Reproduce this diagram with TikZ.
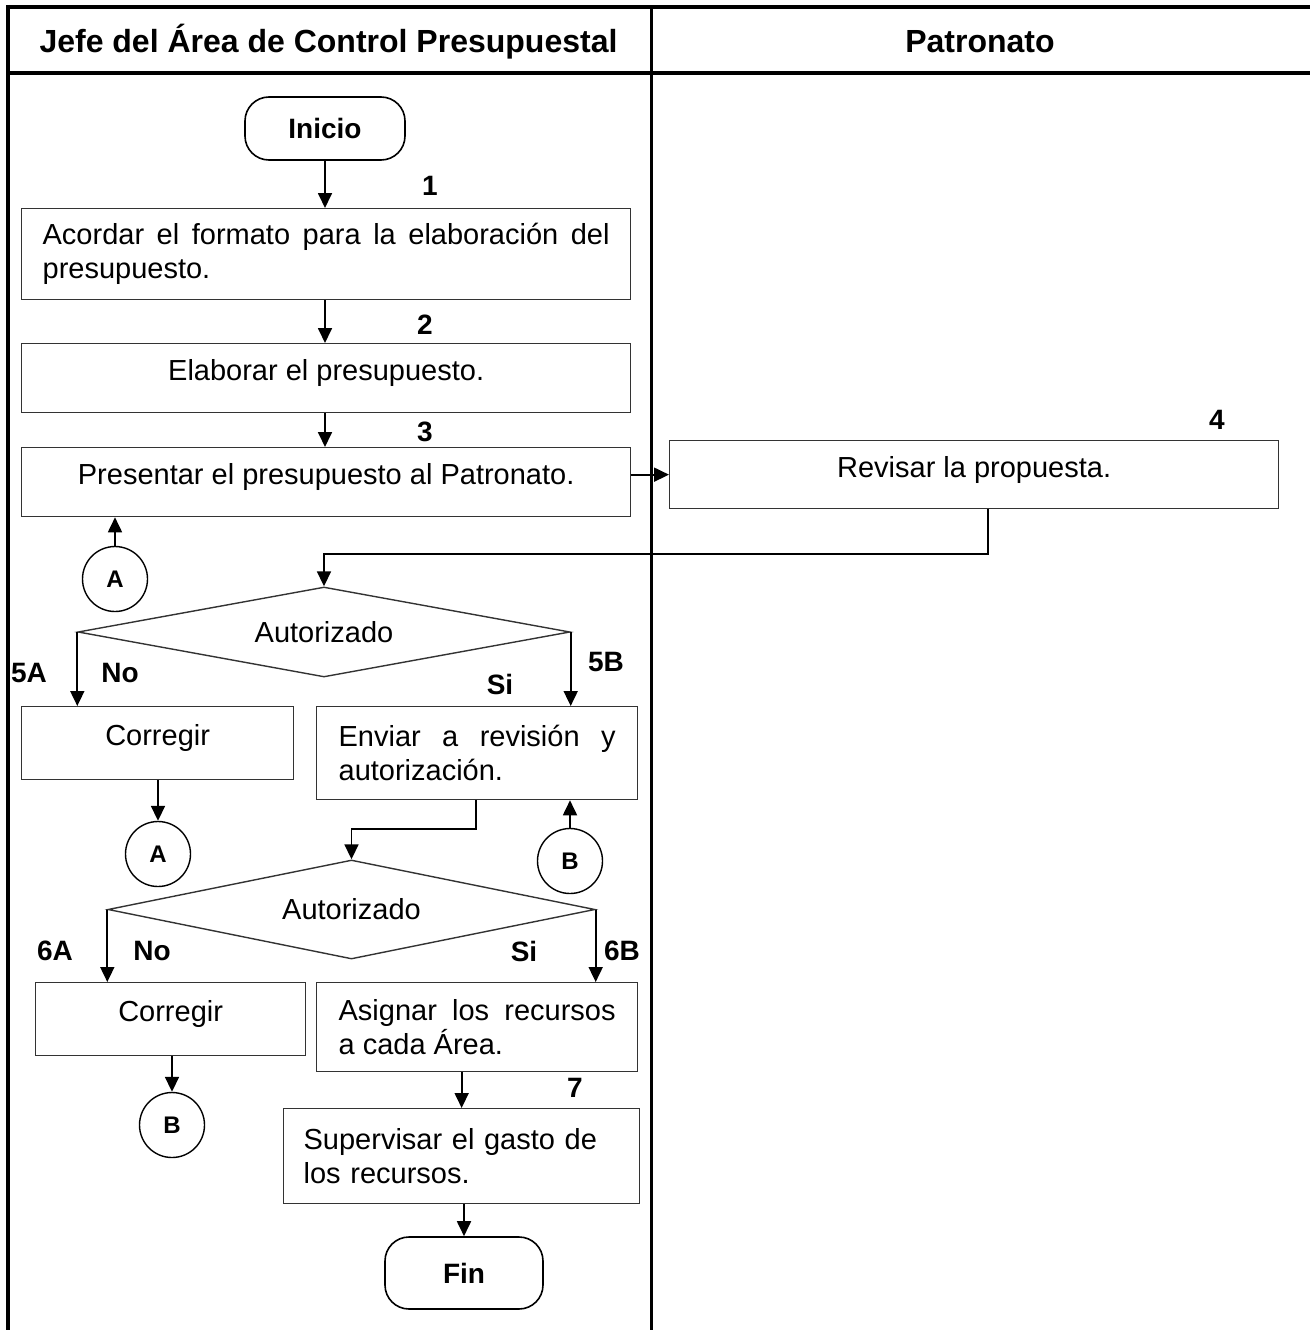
\documentclass[tikz,border=0pt]{standalone}
\usepackage{fontspec}
\setmainfont{Liberation Sans}
\usepackage{tikz}
\usetikzlibrary{arrows.meta,positioning,shapes.geometric}

\begin{document}
\begin{tikzpicture}[
    x=1pt,y=-1pt,
    every node/.style={font=\fontsize{29}{34}\selectfont},
    head/.style={font=\bfseries\fontsize{32}{34}\selectfont},
    box/.style={draw=black!80,line width=1.3pt,anchor=north west,inner xsep=21pt,inner ysep=0pt},
    onebox/.style={box,align=center,text depth=16pt},
    term/.style={draw,line width=1.6pt,rounded corners=24pt,minimum width=160pt,font=\bfseries\fontsize{28}{28}\selectfont},
    decision/.style={diamond,aspect=5,draw=black!80,line width=1.4pt,inner sep=0pt},
    conn/.style={circle,draw,line width=1.4pt,minimum size=65pt,inner sep=0pt,font=\bfseries\fontsize{24}{24}\selectfont},
    lbl/.style={font=\bfseries\fontsize{28}{28}\selectfont},
    flow/.style={line width=1.8pt,-{Triangle[length=15pt,width=14pt]}}
]
\useasboundingbox (0,0) rectangle (1310,1330);

\draw[line width=4pt] (6,7) -- (1310,7);
\draw[line width=4pt] (8,5) -- (8,1330);
\draw[line width=3pt] (8,73) -- (1310,73);
\draw[line width=3pt] (651,7) -- (651,1330);

\node[head] (jefe) at (328.5,42) {Jefe del Área de Control Presupuestal};
\node[head] (patro) at (980,42) {Patronato};

\node[term,minimum height=63pt] (inicio) at (325,128.5) {Inicio};
\node[box,minimum width=609pt,minimum height=91pt,text width=567pt,align=justify] (acordar) at (21,208)
    {Acordar el formato para la elaboración del\linebreak presupuesto.};
\node[onebox,minimum width=609pt,minimum height=69pt] (elaborar) at (21,343) {Elaborar el presupuesto.};
\node[onebox,minimum width=609pt,minimum height=69pt] (presentar) at (21,447) {Presentar el presupuesto al Patronato.};
\node[onebox,minimum width=609pt,minimum height=68pt] (revisar) at (669,440) {Revisar la propuesta.};

\node[conn] (a1) at (115,579) {A};
\node[decision,minimum width=492pt,minimum height=90pt] (dec1) at (324,632) {Autorizado};
\node[onebox,minimum width=272pt,minimum height=73pt] (corr1) at (21,706) {Corregir};
\node[box,minimum width=321pt,minimum height=93pt,inner xsep=22pt,text width=277pt,align=justify] (enviar) at (316,706)
    {Enviar a revisión y\linebreak autorización.};
\node[conn] (a2) at (158,854) {A};
\node[conn] (b1) at (570,861) {B};

\node[decision,minimum width=487pt,minimum height=99pt] (dec2) at (351.5,909.5) {Autorizado};
\node[onebox,minimum width=270pt,minimum height=73pt] (corr2) at (35,982) {Corregir};
\node[box,minimum width=321pt,minimum height=89pt,inner xsep=22pt,text width=277pt,align=justify] (asignar) at (316,982)
    {Asignar los recursos\linebreak a cada Área.};
\node[conn] (b2) at (172,1125) {B};
\node[box,minimum width=356pt,minimum height=95pt,inner xsep=20pt,text width=316pt,align=left] (supervisar) at (283,1108)
    {Supervisar el gasto de\\los recursos.};
\node[term,minimum width=158pt,minimum height=72pt] (fin) at (464,1273) {Fin};

\node[lbl] (n1) at (430,186) {1};
\node[lbl] (n2) at (425,325) {2};
\node[lbl] (n3) at (425,432) {3};
\node[lbl] (n4) at (1217,420) {4};
\node[lbl] (n5a) at (29,673) {5A};
\node[lbl] (no1) at (120,673) {No};
\node[lbl] (n5b) at (606,662) {5B};
\node[lbl] (si1) at (500,684) {Si};
\node[lbl] (n6a) at (55,951) {6A};
\node[lbl] (no2) at (152,951) {No};
\node[lbl] (si2) at (524,951) {Si};
\node[lbl] (n6b) at (622,951) {6B};
\node[lbl] (n7) at (575,1088) {7};

\coordinate (j4) at (988,554);
\coordinate (j5) at (476,829);

\draw[flow] (inicio) -- (acordar.north -| inicio);
\draw[flow] (acordar.south -| inicio) -- (elaborar.north -| inicio);
\draw[flow] (elaborar.south -| inicio) -- (presentar.north -| inicio);
\draw[flow] (revisar.west -| presentar.east) -- (revisar.west);
\draw[flow] (j4 |- revisar.south) -- (j4) -| (dec1.north);
\draw[flow] (a1.north) -- (a1.north |- presentar.south);
\draw[flow] (dec1.west) -- (dec1.west |- corr1.north);
\draw[flow] (dec1.east) -- (dec1.east |- enviar.north);
\draw[flow] (corr1.south -| a2) -- (a2.north);
\draw[flow] (b1.north) -- (b1.north |- enviar.south);
\draw[flow] (j5 |- enviar.south) -- (j5) -| (dec2.north);
\draw[flow] (dec2.west) -- (dec2.west |- corr2.north);
\draw[flow] (dec2.east) -- (dec2.east |- asignar.north);
\draw[flow] (corr2.south -| b2) -- (b2.north);
\draw[flow] (asignar.south -| supervisar.north) -- (supervisar.north);
\draw[flow] (supervisar.south -| fin) -- (fin.north);
\end{tikzpicture}
\end{document}
